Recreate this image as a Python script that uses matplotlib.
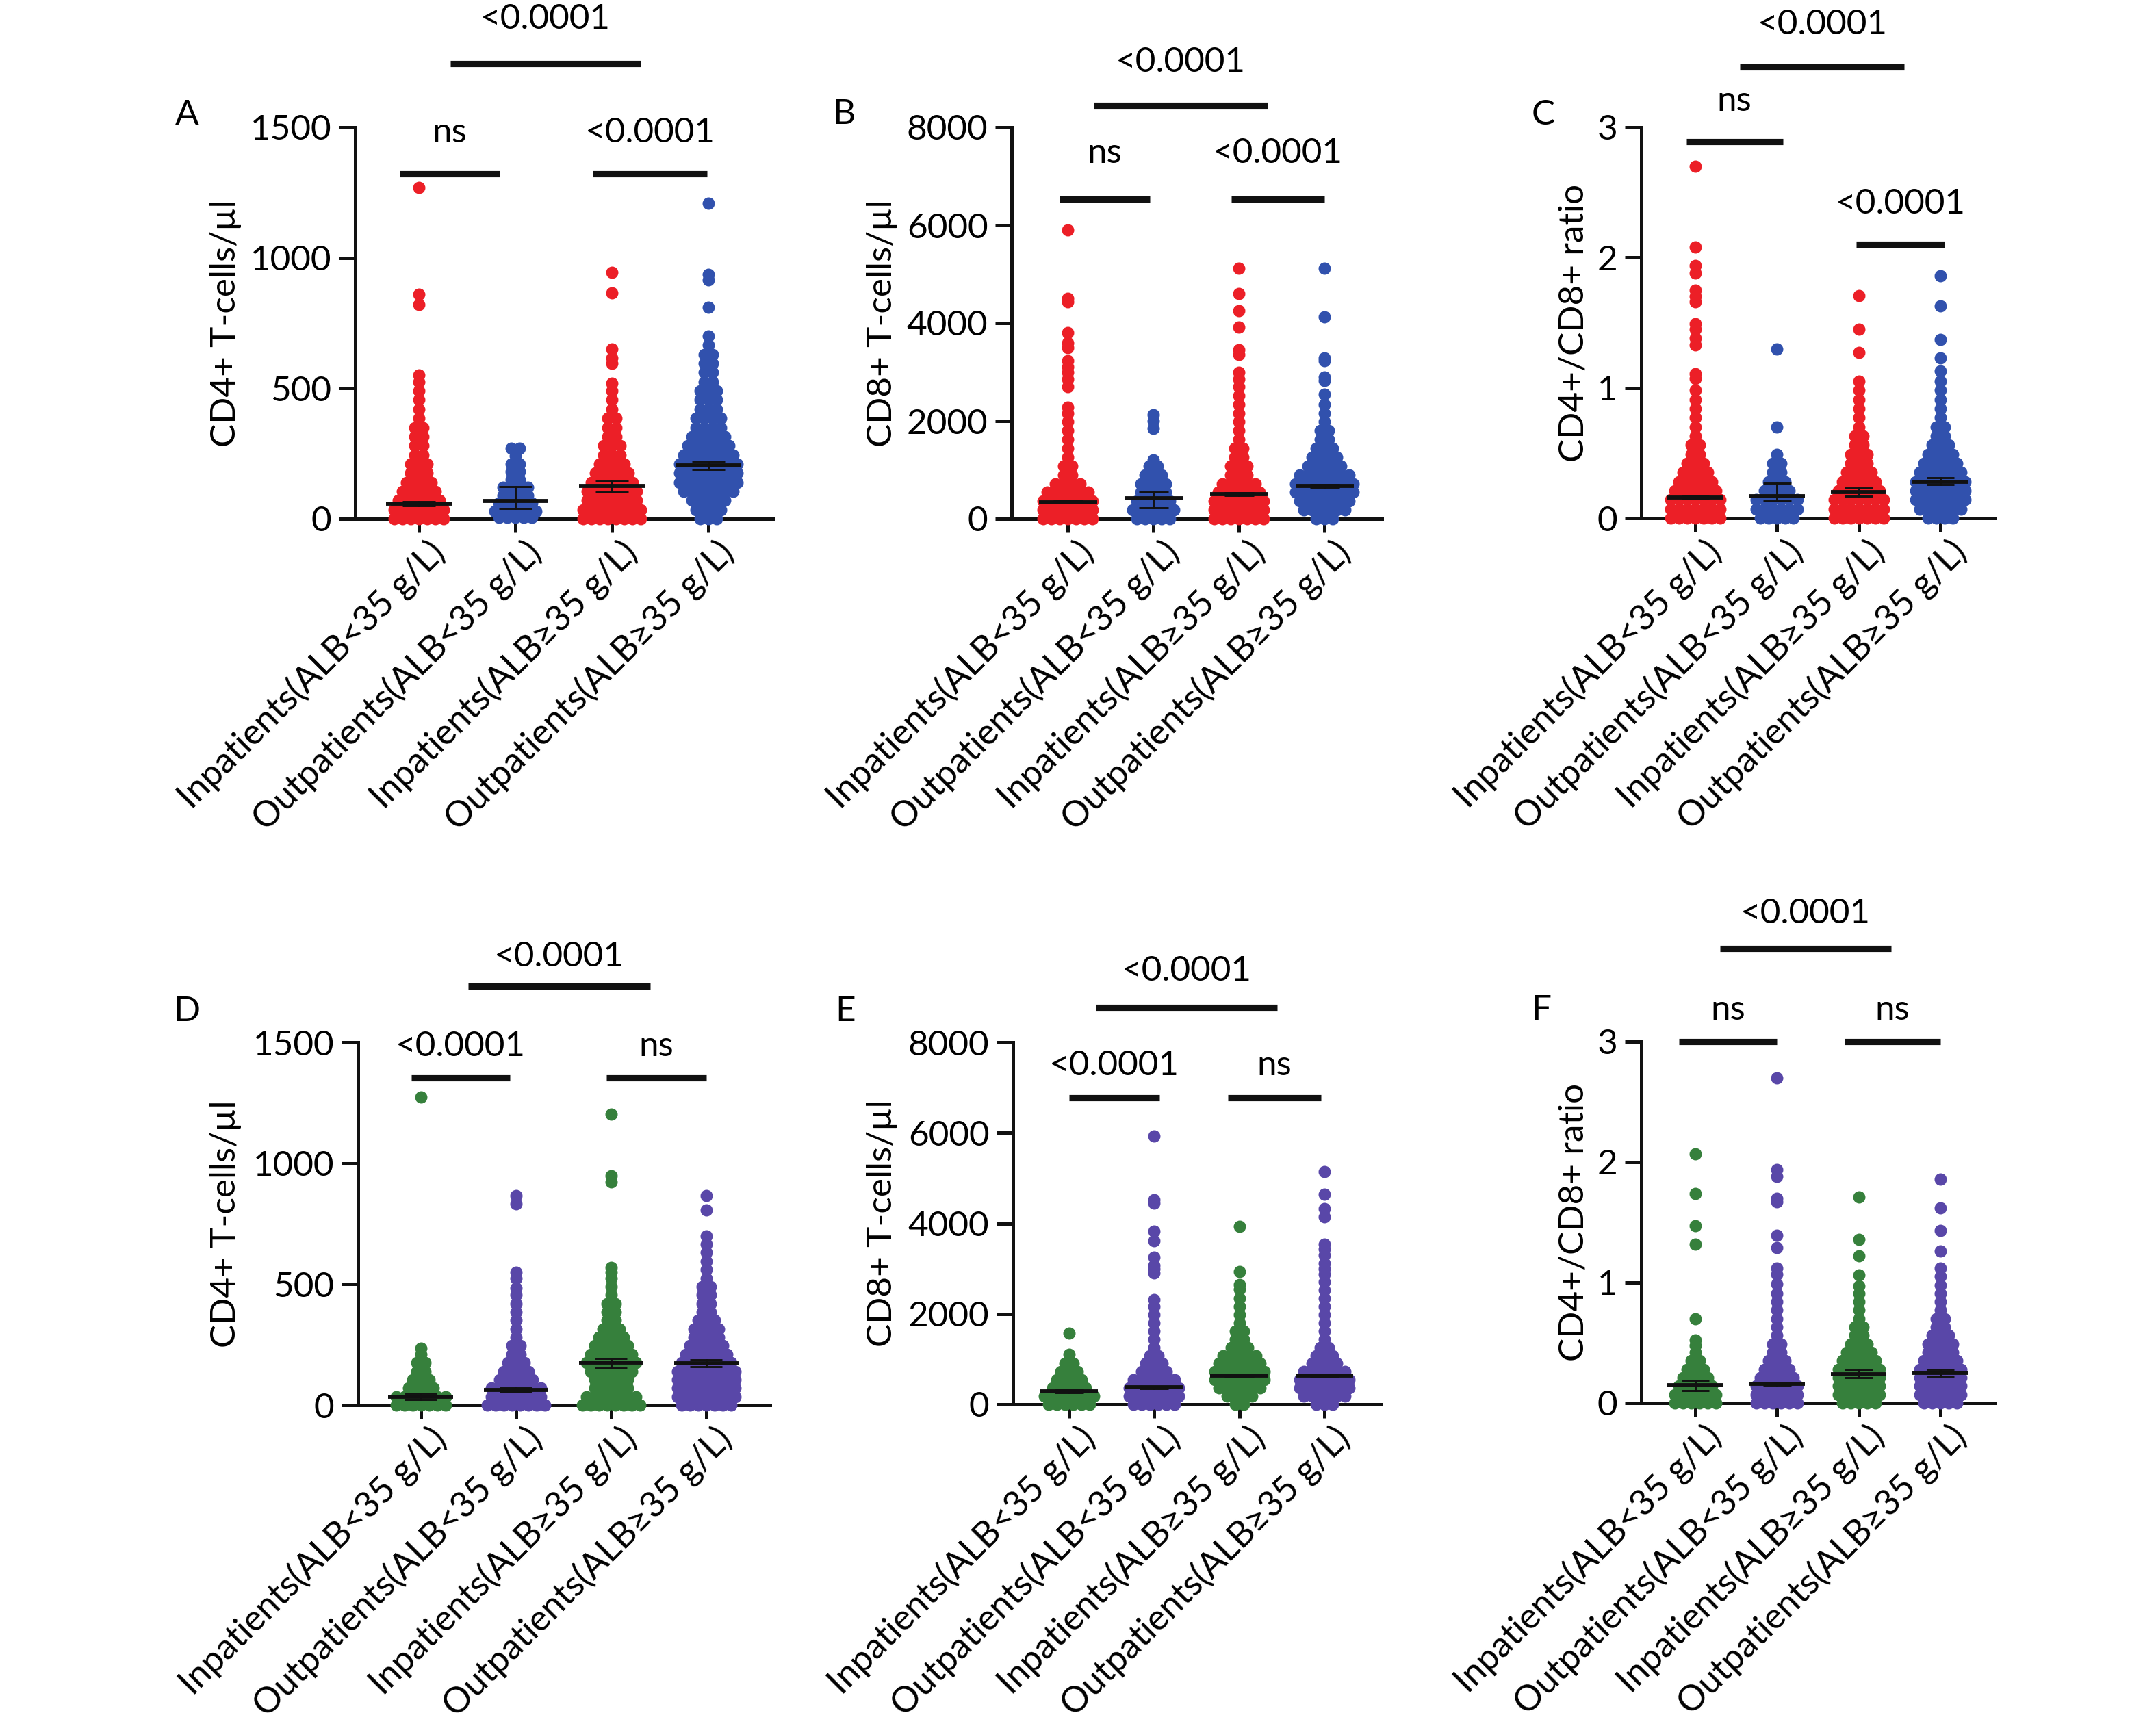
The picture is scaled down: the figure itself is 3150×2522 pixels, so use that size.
import matplotlib
matplotlib.use('Agg')
import matplotlib.pyplot as plt
import matplotlib.transforms as mtransforms

plt.rcParams['font.family'] = ['Lato', 'DejaVu Sans']

categories = ['Inpatients(ALB<35 g/L)', 'Outpatients(ALB<35 g/L)',
              'Inpatients(ALB≥35 g/L)', 'Outpatients(ALB≥35 g/L)']

RED = '#ec1f27'
BLUE = '#3151ad'
GREEN = '#36803c'
PURPLE = '#5947a8'

# ---- panel A : CD4+ (red / blue) ----
a1_vals = [0, 35, 70, 105, 140, 175, 210, 245, 280, 315, 350, 385, 420, 455, 490, 525, 550, 820, 860, 1270]
a1_cnts = [7, 7, 6, 5, 4, 3, 3, 2, 2, 2, 2, 1, 1, 1, 1, 1, 1, 1, 1, 1]
a2_vals = [5, 30, 60, 90, 120, 150, 180, 210, 240, 270]
a2_cnts = [5, 6, 5, 4, 4, 2, 2, 2, 1, 2]
a3_vals = [0, 35, 70, 105, 140, 175, 210, 245, 280, 315, 350, 385, 420, 455, 490, 520, 595, 615, 650, 865, 945]
a3_cnts = [8, 8, 7, 7, 6, 5, 4, 3, 3, 2, 2, 2, 1, 1, 1, 1, 1, 1, 1, 1, 1]
a4_vals = [0, 35, 70, 105, 140, 175, 210, 245, 280, 315, 350, 385, 420, 455, 490, 525, 560, 595, 630, 665, 700,
           810, 915, 935, 1210]
a4_cnts = [3, 4, 5, 7, 8, 8, 8, 7, 6, 5, 4, 4, 3, 3, 3, 2, 2, 2, 2, 1, 1, 1, 1, 1, 1]
a_mid = [58, 67, 125, 205]
a_lo = [50, 40, 103, 190]
a_hi = [66, 123, 143, 220]

# ---- panel B : CD8+ (red / blue) ----
b1_vals = [0, 180, 360, 540, 720, 900, 1080, 1260, 1440, 1620, 1800, 1980, 2150, 2280, 2700, 2850, 2990, 3100,
           3230, 3500, 3600, 3800, 4430, 4500, 5900]
b1_cnts = [7, 7, 7, 6, 4, 2, 2, 1, 1, 1, 1, 1, 1, 1, 1, 1, 1, 1, 1, 1, 1, 1, 1, 1, 1]
b2_vals = [0, 180, 360, 540, 720, 900, 1080, 1200, 1850, 2000, 2120]
b2_cnts = [5, 6, 5, 4, 4, 3, 2, 1, 1, 1, 1]
b3_vals = [0, 180, 360, 540, 720, 900, 1080, 1260, 1440, 1620, 1800, 1980, 2160, 2340, 2520, 2700, 2850, 2990,
           3350, 3460, 3910, 4250, 4600, 5120]
b3_cnts = [7, 7, 7, 6, 5, 3, 3, 2, 2, 1, 1, 1, 1, 1, 1, 1, 1, 1, 1, 1, 1, 1, 1, 1]
b4_vals = [0, 180, 360, 540, 720, 900, 1080, 1260, 1440, 1620, 1800, 1980, 2160, 2340, 2550, 2820, 2890, 3230,
           3290, 4120, 5120]
b4_cnts = [3, 6, 7, 8, 8, 7, 5, 4, 3, 2, 2, 1, 1, 1, 1, 1, 1, 1, 1, 1, 1]
b_mid = [336, 417, 504, 672]
b_lo = [315, 222, 475, 645]
b_hi = [357, 551, 533, 700]

# ---- panel C : CD4+/CD8+ ratio (red / blue) ----
c1_vals = [0, .07, .14, .21, .28, .35, .42, .49, .56, .63, .70, .77, .84, .91, .98, 1.07, 1.11, 1.33, 1.38,
           1.45, 1.49, 1.66, 1.70, 1.75, 1.88, 1.94, 2.08, 2.70]
c1_cnts = [7, 7, 7, 6, 5, 4, 3, 2, 2, 1, 1, 1, 1, 1, 1, 1, 1, 1, 1, 1, 1, 1, 1, 1, 1, 1, 1, 1]
c2_vals = [0, .07, .14, .21, .28, .35, .42, .49, .70, 1.30]
c2_cnts = [5, 6, 6, 4, 3, 2, 2, 1, 1, 1]
c3_vals = [0, .07, .14, .21, .28, .35, .42, .49, .56, .63, .70, .77, .84, .91, .98, 1.05, 1.27, 1.45, 1.71]
c3_cnts = [7, 7, 7, 6, 5, 4, 3, 3, 2, 2, 1, 1, 1, 1, 1, 1, 1, 1, 1]
c4_vals = [0, .07, .14, .21, .28, .35, .42, .49, .56, .63, .70, .77, .84, .91, .98, 1.05, 1.13, 1.23, 1.37,
           1.63, 1.86]
c4_cnts = [4, 6, 7, 7, 7, 6, 5, 4, 3, 2, 2, 1, 1, 1, 1, 1, 1, 1, 1, 1, 1]
c_mid = [0.16, 0.17, 0.20, 0.28]
c_lo = [0.15, 0.13, 0.17, 0.26]
c_hi = [0.17, 0.27, 0.23, 0.31]

# ---- panel D : CD4+ (green / purple) ----
d1_vals = [0, 35, 70, 105, 140, 175, 210, 235, 1273]
d1_cnts = [7, 7, 4, 3, 2, 2, 1, 1, 1]
d2_vals = [0, 35, 70, 105, 140, 175, 210, 245, 280, 315, 350, 385, 420, 455, 485, 523, 550, 832, 867]
d2_cnts = [8, 7, 7, 5, 4, 3, 2, 2, 1, 1, 1, 1, 1, 1, 1, 1, 1, 1, 1]
d3_vals = [0, 35, 70, 105, 140, 175, 210, 245, 280, 315, 350, 385, 420, 455, 490, 525, 550, 570, 922, 949, 1204]
d3_cnts = [8, 7, 5, 5, 6, 7, 6, 5, 4, 3, 2, 2, 2, 1, 1, 1, 1, 1, 1, 1, 1]
d4_vals = [0, 35, 70, 105, 140, 175, 210, 245, 280, 315, 350, 385, 420, 455, 490, 525, 560, 595, 630, 665, 700,
           808, 867]
d4_cnts = [7, 8, 8, 8, 8, 7, 6, 5, 4, 4, 3, 2, 2, 2, 2, 1, 1, 1, 1, 1, 1, 1, 1]
d_mid = [34, 62, 176, 172]
d_lo = [23, 55, 154, 158]
d_hi = [48, 70, 193, 186]

# ---- panel E : CD8+ (green / purple) ----
e1_vals = [0, 180, 360, 540, 720, 900, 1100, 1570]
e1_cnts = [6, 7, 5, 4, 3, 2, 1, 1]
e2_vals = [0, 180, 360, 540, 720, 900, 1080, 1260, 1440, 1620, 1800, 1980, 2160, 2320, 2900, 3000, 3070, 3250,
           3610, 3820, 4450, 4520, 5930]
e2_cnts = [6, 7, 7, 6, 4, 3, 2, 1, 1, 1, 1, 1, 1, 1, 1, 1, 1, 1, 1, 1, 1, 1, 1]
e3_vals = [0, 180, 360, 540, 720, 900, 1080, 1260, 1440, 1620, 1800, 1980, 2160, 2340, 2540, 2640, 2930, 3930]
e3_cnts = [2, 4, 6, 7, 7, 6, 5, 3, 2, 2, 1, 1, 1, 1, 1, 1, 1, 1]
e4_vals = [0, 180, 360, 540, 720, 900, 1080, 1260, 1440, 1620, 1800, 1980, 2160, 2340, 2520, 2700, 2880, 2990,
           3110, 3300, 3430, 3540, 4140, 4320, 4640, 5140]
e4_cnts = [3, 6, 7, 7, 6, 4, 3, 2, 1, 1, 1, 1, 1, 1, 1, 1, 1, 1, 1, 1, 1, 1, 1, 1, 1, 1]
e_mid = [286, 379, 629, 629]
e_lo = [255, 355, 600, 600]
e_hi = [318, 400, 655, 655]

# ---- panel F : CD4+/CD8+ ratio (green / purple) ----
f1_vals = [0, .07, .14, .21, .28, .35, .42, .48, .52, .70, 1.32, 1.47, 1.74, 2.07]
f1_cnts = [6, 6, 5, 4, 3, 2, 1, 1, 1, 1, 1, 1, 1, 1]
f2_vals = [0, .07, .14, .21, .28, .35, .42, .49, .56, .63, .70, .77, .84, .91, .99, 1.07, 1.12, 1.29, 1.39,
           1.67, 1.70, 1.88, 1.94, 2.70]
f2_cnts = [6, 6, 6, 5, 4, 3, 2, 2, 1, 1, 1, 1, 1, 1, 1, 1, 1, 1, 1, 1, 1, 1, 1, 1]
f3_vals = [0, .07, .14, .21, .28, .35, .42, .49, .56, .63, .70, .77, .84, .91, .97, 1.06, 1.22, 1.36, 1.71]
f3_cnts = [5, 6, 6, 6, 6, 5, 4, 3, 2, 2, 1, 1, 1, 1, 1, 1, 1, 1, 1]
f4_vals = [0, .07, .14, .21, .28, .35, .42, .49, .56, .63, .70, .77, .84, .91, .98, 1.05, 1.12, 1.26, 1.43,
           1.62, 1.86]
f4_cnts = [5, 6, 6, 6, 6, 5, 4, 4, 3, 2, 2, 1, 1, 1, 1, 1, 1, 1, 1, 1, 1]
f_mid = [0.145, 0.16, 0.24, 0.25]
f_lo = [0.10, 0.15, 0.21, 0.22]
f_hi = [0.19, 0.17, 0.275, 0.28]

W_PX, H_PX, DPI = 3150, 2522, 300
FS = 12.3        # annotation / tick / label text
FS_X = 12.4      # rotated category labels
DOT_D = 18       # dot diameter in pixels
DOT_GAP = 12     # distance between dot centres in a row, pixels
XLIM = (-0.66, 3.67)
INK = '#111111'

fig = plt.figure(figsize=(W_PX / DPI, H_PX / DPI), dpi=DPI)


def make_axes(left, width, top, bottom):
    return fig.add_axes([left / W_PX, 1 - bottom / H_PX, width / W_PX, (bottom - top) / H_PX])


def draw_group(ax, x0, vals, cnts, color, px_per_unit):
    step = DOT_GAP / px_per_unit
    xs, ys = [], []
    for v, n in zip(vals, cnts):
        for k in range(n):
            xs.append(x0 + (k - (n - 1) / 2) * step)
            ys.append(v)
    ax.scatter(xs, ys, s=(DOT_D * 72 / DPI) ** 2, c=color, linewidths=0, zorder=3, clip_on=False)


def draw_panel(spec, groups, mids, los, his, colors, ymax, yticks, ylabel, ylab_x, letter, letter_xy, brackets):
    left, width, top, bottom = spec
    ax = make_axes(left, width, top, bottom)
    ax.set_xlim(*XLIM)
    ax.set_ylim(0, ymax)
    px_per_unit = width / (XLIM[1] - XLIM[0])
    for i, (vals, cnts) in enumerate(groups):
        draw_group(ax, i, vals, cnts, colors[i], px_per_unit)
        ax.plot([i - 0.34, i + 0.34], [mids[i], mids[i]], color=INK, lw=1.4,
                solid_capstyle='butt', zorder=5, clip_on=False)
        ax.plot([i, i], [los[i], his[i]], color=INK, lw=0.7, zorder=5, clip_on=False)
        for yv in (los[i], his[i]):
            ax.plot([i - 0.17, i + 0.17], [yv, yv], color=INK, lw=0.7,
                    solid_capstyle='butt', zorder=5, clip_on=False)

    for side in ('top', 'right'):
        ax.spines[side].set_visible(False)
    for side in ('left', 'bottom'):
        ax.spines[side].set_linewidth(1.2)
        ax.spines[side].set_color(INK)
    ax.set_yticks(yticks)
    ax.set_yticklabels([str(t) for t in yticks])
    ax.tick_params(axis='y', length=5.8, width=1.2, labelsize=FS, color=INK, pad=2.5)
    ax.tick_params(axis='x', length=4.8, width=1.2, labelsize=FS_X, color=INK, pad=1.0)
    ax.set_xticks(range(4))
    ax.set_xticklabels(categories, rotation=45, ha='right', va='top', rotation_mode='anchor')
    shift = mtransforms.ScaledTranslation(3 / 72, 0, fig.dpi_scale_trans)
    for lab in ax.get_xticklabels():
        lab.set_transform(lab.get_transform() + shift)

    ax.set_ylabel(ylabel, fontsize=FS, va='center')
    ax.yaxis.set_label_coords(ylab_x, 0.5)

    fig.text(letter_xy[0] / W_PX, 1 - letter_xy[1] / H_PX, letter, fontsize=FS,
             ha='center', va='center')

    for x1, x2, yb, txt, yt in brackets:
        ax.plot([x1, x2], [yb, yb], color=INK, lw=2.2, solid_capstyle='butt', clip_on=False)
        ax.text((x1 + x2) / 2, yt, txt, fontsize=FS, ha='center', va='center', clip_on=False)
    return ax


red_blue = [RED, BLUE, RED, BLUE]
green_purple = [GREEN, PURPLE, GREEN, PURPLE]

draw_panel((519, 610, 186, 758),
           [(a1_vals, a1_cnts), (a2_vals, a2_cnts), (a3_vals, a3_cnts), (a4_vals, a4_cnts)],
           a_mid, a_lo, a_hi, red_blue, 1500, [0, 500, 1000, 1500], 'CD4+ T-cells/µl', -0.31,
           'A', (273, 168),
           [(-0.2, 0.84, 1322, 'ns', 1480), (1.8, 2.99, 1322, '<0.0001', 1480),
            (0.33, 2.3, 1745, '<0.0001', 1915)])

draw_panel((1478, 541, 186, 758),
           [(b1_vals, b1_cnts), (b2_vals, b2_cnts), (b3_vals, b3_cnts), (b4_vals, b4_cnts)],
           b_mid, b_lo, b_hi, red_blue, 8000, [0, 2000, 4000, 6000, 8000], 'CD8+ T-cells/µl', -0.35,
           'B', (1233, 167),
           [(-0.1, 0.96, 6530, 'ns', 7470), (1.91, 3.0, 6530, '<0.0001', 7470),
            (0.3, 2.33, 8450, '<0.0001', 9330)])

draw_panel((2398, 517, 186, 757),
           [(c1_vals, c1_cnts), (c2_vals, c2_cnts), (c3_vals, c3_cnts), (c4_vals, c4_cnts)],
           c_mid, c_lo, c_hi, red_blue, 3, [0, 1, 2, 3], 'CD4+/CD8+ ratio', -0.19,
           'C', (2255, 168),
           [(-0.11, 1.07, 2.89, 'ns', 3.2), (1.97, 3.05, 2.10, '<0.0001', 2.41),
            (0.55, 2.56, 3.46, '<0.0001', 3.79)])

draw_panel((523, 602, 1523, 2053),
           [(d1_vals, d1_cnts), (d2_vals, d2_cnts), (d3_vals, d3_cnts), (d4_vals, d4_cnts)],
           d_mid, d_lo, d_hi, green_purple, 1500, [0, 500, 1000, 1500], 'CD4+ T-cells/µl', -0.32,
           'D', (273, 1478),
           [(-0.1, 0.94, 1353, '<0.0001', 1483), (1.95, 3.0, 1353, 'ns', 1483),
            (0.5, 2.41, 1732, '<0.0001', 1854)])

draw_panel((1480, 538, 1523, 2052),
           [(e1_vals, e1_cnts), (e2_vals, e2_cnts), (e3_vals, e3_cnts), (e4_vals, e4_cnts)],
           e_mid, e_lo, e_hi, green_purple, 8000, [0, 2000, 4000, 6000, 8000], 'CD8+ T-cells/µl', -0.355,
           'E', (1235, 1478),
           [(0.0, 1.06, 6777, '<0.0001', 7488), (1.87, 2.96, 6777, 'ns', 7488),
            (0.31, 2.45, 8774, '<0.0001', 9576)])

draw_panel((2398, 517, 1522, 2050),
           [(f1_vals, f1_cnts), (f2_vals, f2_cnts), (f3_vals, f3_cnts), (f4_vals, f4_cnts)],
           f_mid, f_lo, f_hi, green_purple, 3, [0, 1, 2, 3], 'CD4+/CD8+ ratio', -0.19,
           'F', (2252, 1476),
           [(-0.2, 1.0, 3.0, 'ns', 3.26), (1.83, 3.0, 3.0, 'ns', 3.26),
            (0.3, 2.4, 3.77, '<0.0001', 4.06)])

fig.savefig('out.png', dpi=DPI, facecolor='white')
